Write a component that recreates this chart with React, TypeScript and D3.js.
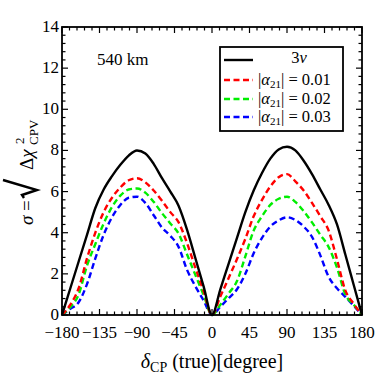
import React, { useEffect, useRef } from 'react';
import * as d3 from 'd3';

// delta_CP (true) in degrees
const deltaCP = [
  -180, -170, -160, -150, -140, -130, -120, -110, -100, -90,
  -80, -70, -60, -50, -40, -30, -20, -10, 0,
  10, 20, 30, 40, 50, 60, 70, 80, 90,
  100, 110, 120, 130, 140, 150, 160, 170, 180
];

// 3 nu standard case
const sigma3nu = [
  0, 1.3, 2.6, 3.9, 5.2, 6.1, 6.75, 7.3, 7.75, 8.0,
  7.85, 7.35, 6.65, 6.0, 5.3, 4.15, 2.77, 1.38, 0,
  1.25, 2.5, 3.75, 5.0, 6.05, 6.9, 7.6, 8.05, 8.18,
  8.0, 7.5, 6.85, 6.1, 5.35, 4.4, 2.94, 1.47, 0
];

const sigmaA001 = [
  0, 0.5, 1.3, 2.75, 4.0, 5.0, 5.7, 6.2, 6.55, 6.65,
  6.45, 6.05, 5.55, 5.0, 4.5, 3.5, 2.3, 1.15, 0,
  0.9, 1.8, 2.72, 3.7, 4.8, 5.6, 6.25, 6.7, 6.85,
  6.5, 6.05, 5.45, 4.8, 4.1, 2.7, 1.2, 0.55, 0
];

const sigmaA002 = [
  0, 0.38, 1.0, 2.4, 3.45, 4.45, 5.25, 5.8, 6.1, 6.15,
  5.95, 5.5, 4.95, 4.45, 3.95, 2.95, 1.95, 0.97, 0,
  0.5, 1.05, 1.65, 2.85, 4.1, 4.8, 5.35, 5.65, 5.75,
  5.5, 5.05, 4.5, 3.9, 3.3, 2.3, 1.0, 0.5, 0
];

const sigmaA003 = [
  0, 0.3, 0.62, 1.5, 2.75, 3.9, 4.75, 5.35, 5.7, 5.75,
  5.45, 4.85, 4.25, 3.85, 3.3, 2.2, 1.4, 0.7, 0,
  0.4, 0.82, 1.25, 2.0, 3.0, 3.75, 4.3, 4.6, 4.75,
  4.62, 4.3, 3.8, 2.9, 1.85, 1.3, 0.88, 0.45, 0
];

const xTicks = [-180, -135, -90, -45, 0, 45, 90, 135, 180];
const yTicks = [0, 2, 4, 6, 8, 10, 12, 14];
const alphaLabels = ['0.01', '0.02', '0.03'];

const FONT = "'Liberation Serif', 'Times New Roman', 'DejaVu Serif', serif";

export default function App() {
  const ref = useRef<SVGSVGElement | null>(null);

  useEffect(() => {
    document.body.style.margin = '0';
    const svg = d3.select(ref.current);
    svg.selectAll('*').remove();

    const margin = { top: 27, right: 14, bottom: 61, left: 62 };
    const width = 376 - margin.left - margin.right;
    const height = 376 - margin.top - margin.bottom;

    const x = d3.scaleLinear().domain([-180, 180]).range([margin.left, margin.left + width]);
    const y = d3.scaleLinear().domain([0, 14]).range([margin.top + height, margin.top]);

    const g = svg.append('g');

    // curves
    const series = [
      { values: sigma3nu, color: '#000000', dash: null },
      { values: sigmaA001, color: '#ff0000', dash: '6,3.5' },
      { values: sigmaA002, color: '#00ee00', dash: '6,3.5' },
      { values: sigmaA003, color: '#0000ff', dash: '6,3.5' }
    ];

    const line = d3.line<[number, number]>()
      .x((d) => x(d[0]))
      .y((d) => y(d[1]))
      .curve(d3.curveMonotoneX);

    series.slice().reverse().forEach((s) => {
      const pts = deltaCP.map((d, i) => [d, s.values[i]] as [number, number]);
      g.append('path')
        .attr('d', line(pts))
        .attr('fill', 'none')
        .attr('stroke', s.color)
        .attr('stroke-width', 2.4)
        .attr('stroke-dasharray', s.dash);
    });

    // frame
    g.append('rect')
      .attr('x', margin.left)
      .attr('y', margin.top)
      .attr('width', width)
      .attr('height', height)
      .attr('fill', 'none')
      .attr('stroke', '#000')
      .attr('stroke-width', 1.8);

    // ticks (inward, on all four sides)
    const ticks = g.append('g').attr('stroke', '#000').attr('stroke-width', 1.2);
    const xMinor = d3.range(-180, 180.1, 9);
    xMinor.forEach((v) => {
      const major = xTicks.indexOf(v) >= 0;
      const len = major ? 6 : 3.5;
      ticks.append('line').attr('x1', x(v)).attr('x2', x(v))
        .attr('y1', y(0)).attr('y2', y(0) - len);
      ticks.append('line').attr('x1', x(v)).attr('x2', x(v))
        .attr('y1', y(14)).attr('y2', y(14) + len);
    });
    const yMinor = d3.range(0, 14.01, 0.4);
    yMinor.forEach((v) => {
      const major = Math.abs(v / 2 - Math.round(v / 2)) < 1e-6;
      const len = major ? 6 : 3.5;
      ticks.append('line').attr('y1', y(v)).attr('y2', y(v))
        .attr('x1', x(-180)).attr('x2', x(-180) + len);
      ticks.append('line').attr('y1', y(v)).attr('y2', y(v))
        .attr('x1', x(180)).attr('x2', x(180) - len);
    });

    // tick labels
    g.selectAll('.xl').data(xTicks).enter().append('text')
      .attr('x', (d) => x(d))
      .attr('y', y(0) + 23)
      .attr('text-anchor', 'middle')
      .attr('font-family', FONT)
      .attr('font-size', 17)
      .text((d) => (d < 0 ? '\u2212' + Math.abs(d) : String(d)));

    g.selectAll('.yl').data(yTicks).enter().append('text')
      .attr('x', margin.left - 3)
      .attr('y', (d) => y(d) + 5)
      .attr('text-anchor', 'end')
      .attr('font-family', FONT)
      .attr('font-size', 17)
      .text((d) => String(d));

    // x title
    const xt = g.append('text')
      .attr('x', 212)
      .attr('y', 368)
      .attr('text-anchor', 'middle')
      .attr('font-family', FONT)
      .attr('font-size', 20);
    xt.append('tspan').attr('font-style', 'italic').text('\u03b4');
    xt.append('tspan').attr('font-size', 14).attr('dy', 4).text('CP');
    xt.append('tspan').attr('dy', -4).text(' (true)[degree]');

    // y title (rotated)
    const yt = g.append('g').attr('transform', 'translate(33,225) rotate(-90)')
      .attr('font-family', FONT);
    yt.append('text').attr('x', 0).attr('y', 0).attr('font-size', 19)
      .html('<tspan font-style="italic">\u03c3</tspan> =');
    yt.append('path')
      .attr('d', 'M27,-9 L30,-11 L35,4 L45,-30')
      .attr('fill', 'none')
      .attr('stroke', '#000')
      .attr('stroke-width', 2.4)
      .attr('stroke-linejoin', 'miter');
    yt.append('text').attr('x', 55).attr('y', 0).attr('font-size', 19)
      .html('\u0394<tspan font-style="italic">\u03c7</tspan>');
    yt.append('text').attr('x', 81).attr('y', -9).attr('font-size', 13).text('2');
    yt.append('text').attr('x', 80).attr('y', 5).attr('font-size', 13).text('CPV');

    // baseline label
    g.append('text')
      .attr('x', 97)
      .attr('y', 65)
      .attr('font-family', FONT)
      .attr('font-size', 17)
      .text('540 km');

    // legend
    const lg = g.append('g').attr('font-family', FONT).attr('font-size', 16.5);
    lg.append('rect')
      .attr('x', 220).attr('y', 47).attr('width', 123).attr('height', 84)
      .attr('fill', '#fff').attr('stroke', '#000').attr('stroke-width', 1.8);
    const rowY = [60, 80, 99, 117];
    series.forEach((s, i) => {
      lg.append('line')
        .attr('x1', 224).attr('x2', 253)
        .attr('y1', rowY[i]).attr('y2', rowY[i])
        .attr('stroke', s.color)
        .attr('stroke-width', 2.4)
        .attr('stroke-dasharray', s.dash);
    });
    lg.append('text').attr('x', 299).attr('y', rowY[0] + 3).attr('text-anchor', 'middle')
      .html('3<tspan font-style="italic">\u03bd</tspan>');
    alphaLabels.forEach((a, i) => {
      const t = lg.append('text').attr('x', 258).attr('y', rowY[i + 1] + 5);
      t.append('tspan').text('|');
      t.append('tspan').attr('font-style', 'italic').text('\u03b1');
      t.append('tspan').attr('font-size', 11).attr('dy', 3).text('21');
      t.append('tspan').attr('dy', -3).text('| = ' + a);
    });
  }, []);

  return (
    <svg ref={ref} width={376} height={376} style={{ display: 'block', background: '#fff' }} />
  );
}
